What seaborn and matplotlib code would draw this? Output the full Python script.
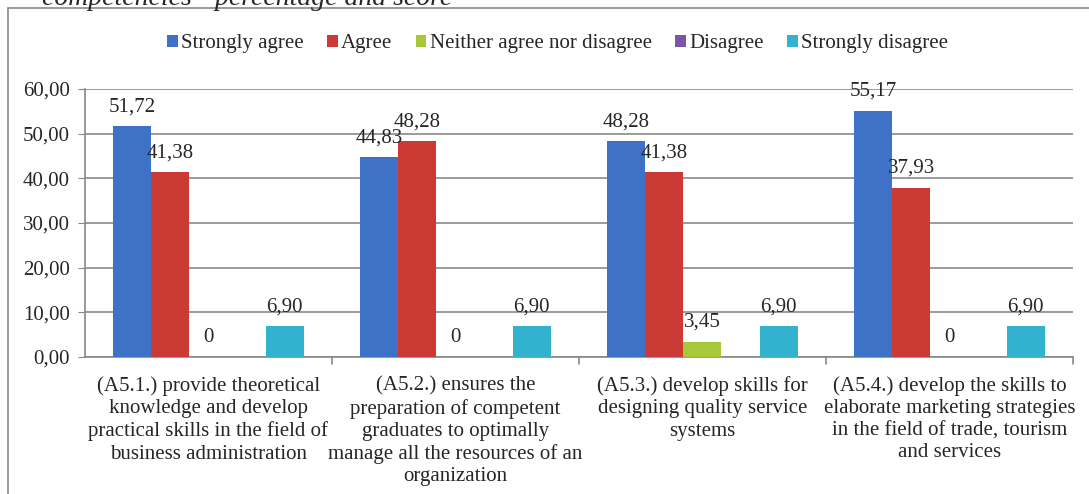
import matplotlib.pyplot as plt
import numpy as np
import pandas as pd
import seaborn as sns
from matplotlib.lines import Line2D

categories = [
    "(A5.1.) provide theoretical\nknowledge and develop\npractical skills in the field of\nbusiness administration",
    "(A5.2.) ensures the\npreparation of competent\ngraduates to optimally\nmanage all the resources of an\norganization",
    "(A5.3.) develop skills for\ndesigning quality service\nsystems",
    "(A5.4.) develop the skills to\nelaborate marketing strategies\nin the field of trade, tourism\nand services",
]
answers = ["Strongly agree", "Agree", "Neither agree nor disagree", "Disagree", "Strongly disagree"]
strongly_agree = [51.72, 44.83, 48.28, 55.17]
agree = [41.38, 48.28, 41.38, 37.93]
neither = [0, 0, 3.45, 0]
disagree = [np.nan, np.nan, np.nan, np.nan]
strongly_disagree = [6.90, 6.90, 6.90, 6.90]
colors = ["#3d72c6", "#cc3a36", "#a8c83c", "#7b56a8", "#33b2cf"]
yticks = [0, 10, 20, 30, 40, 50, 60]

series = [strongly_agree, agree, neither, disagree, strongly_disagree]
rows = []
for ans, vals in zip(answers, series):
    for cat, v in zip(categories, vals):
        rows.append({"item": cat, "answer": ans, "value": v})
df = pd.DataFrame(rows)

sns.set_style("white")
plt.rcParams["font.family"] = ["Liberation Serif", "DejaVu Serif"]
plt.rcParams["font.size"] = 15

fig = plt.figure(figsize=(10.89, 4.94), dpi=100)
ax = fig.add_axes([0.078, 0.2773, 0.9073, 0.5425])

sns.barplot(data=df, x="item", y="value", hue="answer", hue_order=answers,
            order=categories, palette=colors, width=0.77, gap=0,
            saturation=1, ax=ax, zorder=3, edgecolor="none")

for cont, vals in zip(ax.containers, series):
    if all(np.isnan(v) for v in vals) or any(p is None for p in cont.patches):
        continue
    labels = []
    for v in vals:
        if v == 0:
            labels.append("0")
        else:
            labels.append(f"{v:.2f}".replace(".", ","))
    ax.bar_label(cont, labels=labels, padding=7, fontsize=15, clip_on=False)

ax.set_ylim(0, 60)
ax.set_yticks(yticks)
ax.set_yticklabels([f"{t:.2f}".replace(".", ",") for t in yticks])
ax.set_xlim(-0.5, 3.5)
ax.set_xticks(range(4))
ax.set_xticklabels(categories, fontsize=15, linespacing=1.22)
ax.tick_params(axis="x", length=0, pad=14)
ax.tick_params(axis="y", length=5, color="#888888", left=True, pad=6, labelsize=15)
for b in [0.5, 1.5, 2.5, 3.5]:
    ax.plot([b, b], [0, -0.025], transform=ax.get_xaxis_transform(),
            color="#888888", lw=1.2, clip_on=False)
ax.yaxis.grid(True, color="#8a8a8a", lw=1.2, zorder=0)
ax.set_xlabel("")
ax.set_ylabel("")
for s in ["top", "right"]:
    ax.spines[s].set_visible(False)
for s in ["left", "bottom"]:
    ax.spines[s].set_color("#888888")
    ax.spines[s].set_linewidth(1.2)

ax.legend(loc="center", bbox_to_anchor=(0.512, 0.912), bbox_transform=fig.transFigure,
          ncol=5, frameon=False, fontsize=15, handlelength=0.5, handleheight=0.5,
          handletextpad=0.15, columnspacing=1.15, borderpad=0)

fig.add_artist(Line2D([0.0075, 1.0], [0.984, 0.984], color="#8a8a8a", lw=1.2))
fig.add_artist(Line2D([0.0075, 0.0075], [0.0, 0.984], color="#8a8a8a", lw=1.2))
fig.text(0.039, 0.99, "competencies - percentage and score", style="italic",
         fontsize=20, va="baseline", ha="left")

fig.savefig("out.png", dpi=100)
